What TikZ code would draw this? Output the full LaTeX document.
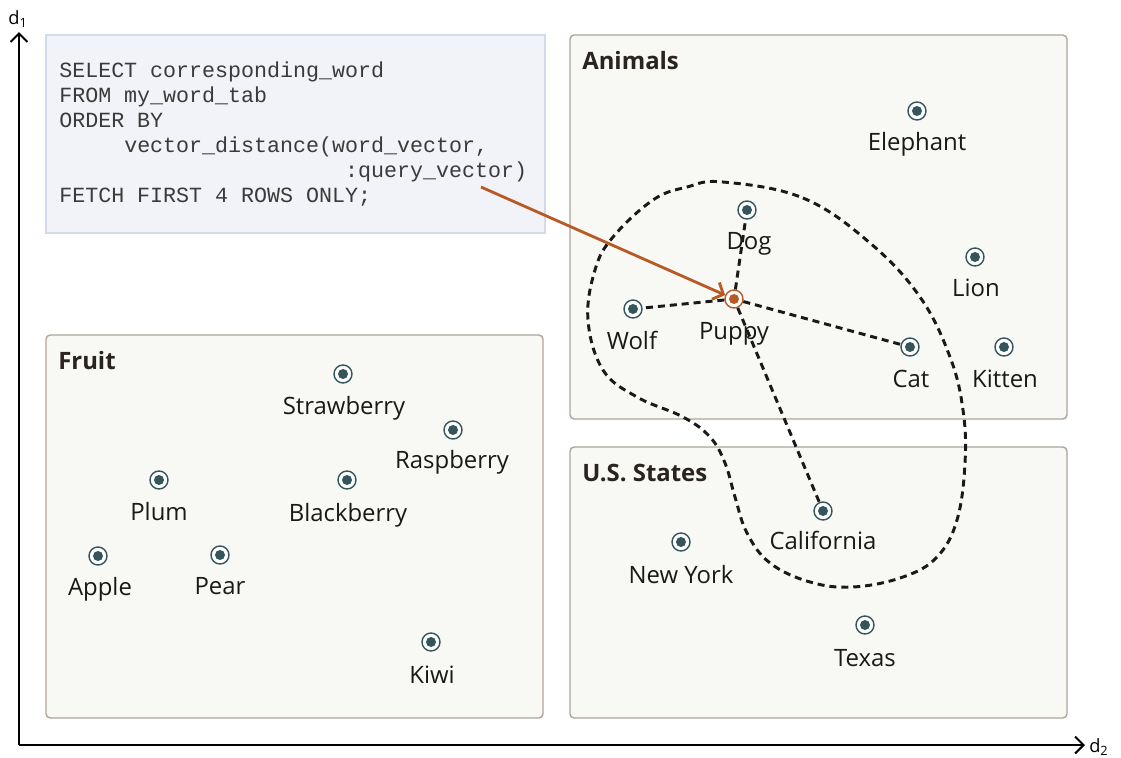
\documentclass[tikz,border=0pt]{standalone}
\usepackage{fontspec}
\setmainfont{Open Sans}
\newfontfamily\codefont{Liberation Mono}
\usetikzlibrary{arrows.meta,calc}

\definecolor{codefill}{HTML}{F2F3F8}
\definecolor{codeline}{HTML}{D3DAEA}
\definecolor{codetext}{HTML}{3A3A3A}
\definecolor{groupfill}{HTML}{F8F8F4}
\definecolor{groupline}{HTML}{ADA49B}
\definecolor{titletext}{HTML}{2A2320}
\definecolor{markc}{HTML}{34555B}
\definecolor{queryc}{HTML}{B85A26}

\tikzset{
  axisline/.style={line width=1.4pt,-{Straight Barb[length=6pt,width=12pt,line width=1.4pt]}},
  groupbox/.style={draw=groupline,fill=groupfill,line width=1pt,rounded corners=3pt},
  grouptitle/.style={anchor=base west,inner sep=0pt,text=titletext,font=\fontsize{17}{20}\selectfont\bfseries},
  wordpt/.style={circle,draw=markc,line width=1pt,fill=white,minimum size=0.45cm,inner sep=0pt,
    path picture={\fill[markc] (path picture bounding box.center) circle (0.125cm);}},
  querypt/.style={wordpt,draw=queryc,
    path picture={\fill[queryc] (path picture bounding box.center) circle (0.125cm);}},
  wordlbl/.style={anchor=base,inner sep=0pt,text=black!90,font=\fontsize{17}{20}\selectfont},
  nearline/.style={dash pattern=on 5pt off 3.5pt,line width=2.1pt,black!90},
  queryarrow/.style={draw=queryc,line width=2pt,-{Straight Barb[length=6pt,width=13pt,line width=2pt]}}
}

\begin{document}
\begin{tikzpicture}[x=0.025cm,y=-0.025cm]
  \useasboundingbox (0,0) rectangle (1121,758);

  % axes
  \coordinate (origin) at (19,745);
  \coordinate (d1end) at (19,32);
  \coordinate (d2end) at (1085,745);
  \draw[axisline] (origin) -- (d1end);
  \draw[axisline] (origin) -- (d2end);
  \node[anchor=base,inner sep=0pt,font=\fontsize{13}{15}\selectfont] (d1) at (18,24) {d\textsubscript{1}};
  \node[anchor=base west,inner sep=0pt,font=\fontsize{13}{15}\selectfont] (d2) at (1089,752) {d\textsubscript{2}};

  % group boxes
  \draw[groupbox] (570,35) rectangle (1067,419);
  \draw[groupbox] (46,335) rectangle (543,718);
  \draw[groupbox] (570,447) rectangle (1067,718);
  \node[grouptitle] (animals) at (582,69) {Animals};
  \node[grouptitle] (fruit) at (58,369) {Fruit};
  \node[grouptitle] (states) at (582,481) {U.S. States};

  % query box
  \draw[fill=codefill,draw=codeline,line width=1pt] (46,35) rectangle (545,233);
  \node[anchor=north west,inner sep=0pt,align=left,text=codetext,
        font=\codefont\fontsize{15.4}{17.72}\selectfont] (query) at (59,62)
    {SELECT corresponding\_word\\
     FROM my\_word\_tab\\
     ORDER BY\\
     \phantom{xxxxx}vector\_distance(word\_vector,\\
     \phantom{xxxxxxxxxxxxxxxxxxxxxx}:query\_vector)\\
     FETCH FIRST 4 ROWS ONLY;};

  % nearest neighbour region
  \draw[nearline] plot[smooth cycle,tension=0.65] coordinates {
    (723,182) (803,198) (870,243) (920,297) (950,357) (963,410) (965,463)
    (957,520) (937,557) (903,577) (853,587) (810,582) (770,563) (747,533)
    (735,497) (725,463) (710,437) (683,417) (637,397) (603,370) (588,320)
    (595,270) (613,237) (653,200) (687,187)};

  % words
  \begin{scope}[every node/.style={wordpt}]
    \node (elephant)   at (917,111) {};
    \node (dog)        at (747,210) {};
    \node (lion)       at (975,257) {};
    \node (wolf)       at (633,309) {};
    \node (cat)        at (910,347) {};
    \node (kitten)     at (1004,347) {};
    \node (strawberry) at (343,374) {};
    \node (raspberry)  at (453,430) {};
    \node (plum)       at (159,480) {};
    \node (blackberry) at (347,480) {};
    \node (apple)      at (98,556) {};
    \node (pear)       at (220,555) {};
    \node (kiwi)       at (431,642) {};
    \node (california) at (823,511) {};
    \node (newyork)    at (681,542) {};
    \node (texas)      at (865,625) {};
  \end{scope}
  \node[querypt] (puppy) at (734,299) {};

  \begin{scope}[every node/.style={wordlbl}]
    \node (elephantlbl)   at (917,150) {Elephant};
    \node (doglbl)        at (749,249) {Dog};
    \node (lionlbl)       at (976,296) {Lion};
    \node (wolflbl)       at (632,349) {Wolf};
    \node (puppylbl)      at (734,339) {Puppy};
    \node (catlbl)        at (911,387) {Cat};
    \node (kittenlbl)     at (1005,387) {Kitten};
    \node (strawberrylbl) at (344,414) {Strawberry};
    \node (raspberrylbl)  at (452,468) {Raspberry};
    \node (plumlbl)       at (159,520) {Plum};
    \node (blackberrylbl) at (348,521) {Blackberry};
    \node (applelbl)      at (100,595) {Apple};
    \node (pearlbl)       at (220,594) {Pear};
    \node (kiwilbl)       at (432,683) {Kiwi};
    \node (californialbl) at (823,549) {California};
    \node (newyorklbl)    at (681,583) {New York};
    \node (texaslbl)      at (865,666) {Texas};
  \end{scope}

  % nearest words
  \draw[nearline] (puppy) -- (dog);
  \draw[nearline] (puppy) -- (wolf);
  \draw[nearline] (puppy) -- (cat);
  \draw[nearline] (puppy) -- (california);

  % query vector
  \coordinate (qstart) at (481,187);
  \draw[queryarrow] (qstart) -- (puppy);
\end{tikzpicture}
\end{document}
